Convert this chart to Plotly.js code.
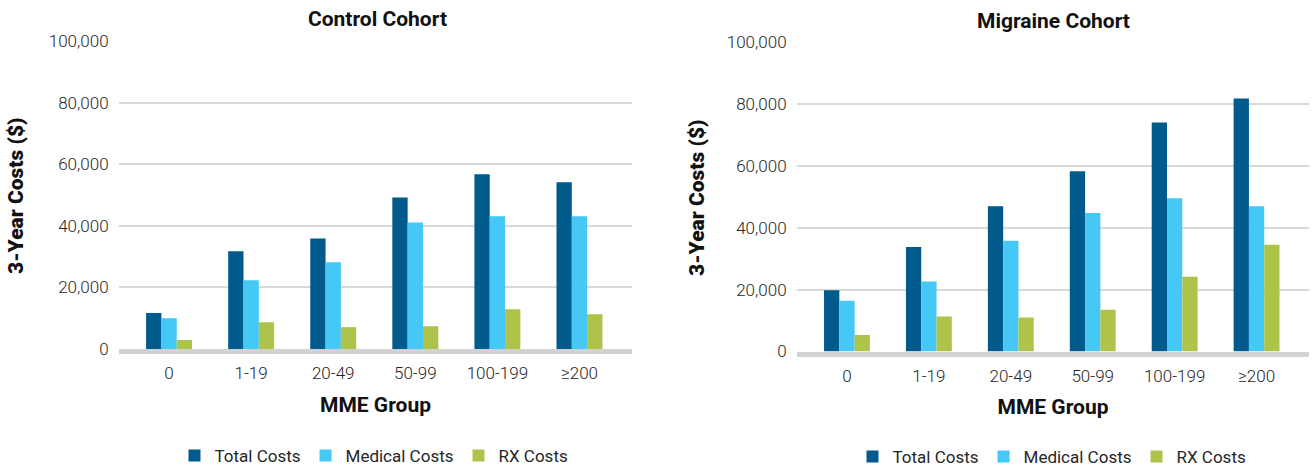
<!DOCTYPE html>
<html>
<head>
<meta charset="utf-8">
<script src="https://cdn.plot.ly/plotly-3.0.1.min.js"></script>
<style>
  html, body { margin: 0; padding: 0; background: #ffffff; }
  #chart { width: 1315px; height: 468px; }
</style>
</head>
<body>
<div id="chart"></div>
<script>
// ---- data ----
const mmeGroups = ['0', '1-19', '20-49', '50-99', '100-199', '≥200'];

const controlTotal   = [11700, 31700, 35900, 49200, 56700, 54100];
const controlMedical = [10000, 22300, 28200, 41100, 43100, 43100];
const controlRx      = [2900, 8700, 7100, 7400, 12900, 11300];

const migraineTotal   = [19800, 33800, 47000, 58300, 74100, 81800];
const migraineMedical = [16400, 22600, 35800, 44800, 49600, 47000];
const migraineRx      = [5300, 11300, 11000, 13500, 24200, 34500];

const seriesNames = ['Total Costs', 'Medical Costs', 'RX Costs'];
const panelTitles = ['Control Cohort', 'Migraine Cohort'];
const xTitle = 'MME Group';
const yTitle = '3-Year Costs ($)';
const yTickVals = [0, 20000, 40000, 60000, 80000, 100000];

// ---- styles ----
const colors = ['#005a8c', '#45c8f5', '#aec34a'];
const W = 1315, H = 468;
const tickFont = { family: 'Roboto, sans-serif', size: 17, color: '#262626', weight: 300 };
const boldFont = { family: 'Roboto, "Liberation Sans", sans-serif', size: 21, color: '#111111', weight: 700 };
const yTitleFont = { family: 'Roboto, "Liberation Sans", sans-serif', size: 21, color: '#111111', weight: 900 };

function bars(vals, idx, xa, ya, legend) {
  return {
    type: 'bar', x: mmeGroups, y: vals, name: seriesNames[idx],
    marker: { color: colors[idx] }, xaxis: xa, yaxis: ya, legend: legend,
    hoverinfo: 'x+y+name'
  };
}

const data = [
  bars(controlTotal, 0, 'x', 'y', 'legend'),
  bars(controlMedical, 1, 'x', 'y', 'legend'),
  bars(controlRx, 2, 'x', 'y', 'legend'),
  bars(migraineTotal, 0, 'x2', 'y2', 'legend2'),
  bars(migraineMedical, 1, 'x2', 'y2', 'legend2'),
  bars(migraineRx, 2, 'x2', 'y2', 'legend2')
];

function xAxis(domain, anchor) {
  return {
    domain: domain, anchor: anchor, type: 'category',
    range: [-0.61, 5.64], fixedrange: true,
    showline: true, linecolor: '#d2d2d2', linewidth: 5,
    showgrid: false, zeroline: false,
    ticks: 'outside', ticklen: 5, tickcolor: 'rgba(0,0,0,0)',
    tickfont: tickFont,
    title: { text: xTitle, font: boldFont, standoff: 16 },
    automargin: false
  };
}
function yAxis(domain, anchor) {
  return {
    domain: domain, anchor: anchor,
    range: [0, 100000], fixedrange: true,
    tickvals: yTickVals, tickformat: ',d',
    showgrid: true, gridcolor: '#d9d9d9', gridwidth: 1.5,
    zeroline: false, showline: false,
    ticks: 'outside', ticklen: 6, tickcolor: 'rgba(0,0,0,0)',
    tickfont: tickFont,
    automargin: false
  };
}

const leftX = [119 / W, 632 / W];
const rightX = [797 / W, 1309 / W];
const legendFont = { family: 'Roboto, sans-serif', size: 17, color: '#262626' };

const layout = {
  width: W, height: H,
  margin: { l: 0, r: 0, t: 0, b: 0, autoexpand: false },
  paper_bgcolor: '#ffffff', plot_bgcolor: '#ffffff',
  barmode: 'group', bargap: 0.44, bargroupgap: 0,
  showlegend: true,
  xaxis: xAxis(leftX, 'y'),
  yaxis: yAxis([1 - 349 / H, 1 - 41 / H], 'x'),
  xaxis2: xAxis(rightX, 'y2'),
  yaxis2: yAxis([1 - 351.5 / H, 1 - 42.3 / H], 'x2'),
  legend: {
    orientation: 'h', x: 374 / W, xanchor: 'center', y: 1 - 456 / H, yanchor: 'middle',
    font: legendFont, bgcolor: 'rgba(0,0,0,0)', itemclick: false, itemdoubleclick: false
  },
  legend2: {
    orientation: 'h', x: 1052 / W, xanchor: 'center', y: 1 - 457 / H, yanchor: 'middle',
    font: legendFont, bgcolor: 'rgba(0,0,0,0)', itemclick: false, itemdoubleclick: false
  },
  annotations: [
    { text: panelTitles[0], xref: 'paper', yref: 'paper', x: 377.5 / W, y: 1 - 19 / H,
      xanchor: 'center', yanchor: 'middle', showarrow: false, font: boldFont },
    { text: panelTitles[1], xref: 'paper', yref: 'paper', x: 1053 / W, y: 1 - 21 / H,
      xanchor: 'center', yanchor: 'middle', showarrow: false, font: boldFont },
    { text: yTitle, xref: 'paper', yref: 'paper', x: 16 / W, y: 1 - 196 / H, textangle: -90,
      xanchor: 'center', yanchor: 'middle', showarrow: false, font: yTitleFont },
    { text: yTitle, xref: 'paper', yref: 'paper', x: 697 / W, y: 1 - 198 / H, textangle: -90,
      xanchor: 'center', yanchor: 'middle', showarrow: false, font: yTitleFont }
  ]
};

Plotly.newPlot('chart', data, layout, { displayModeBar: false, responsive: false });
</script>
</body>
</html>
